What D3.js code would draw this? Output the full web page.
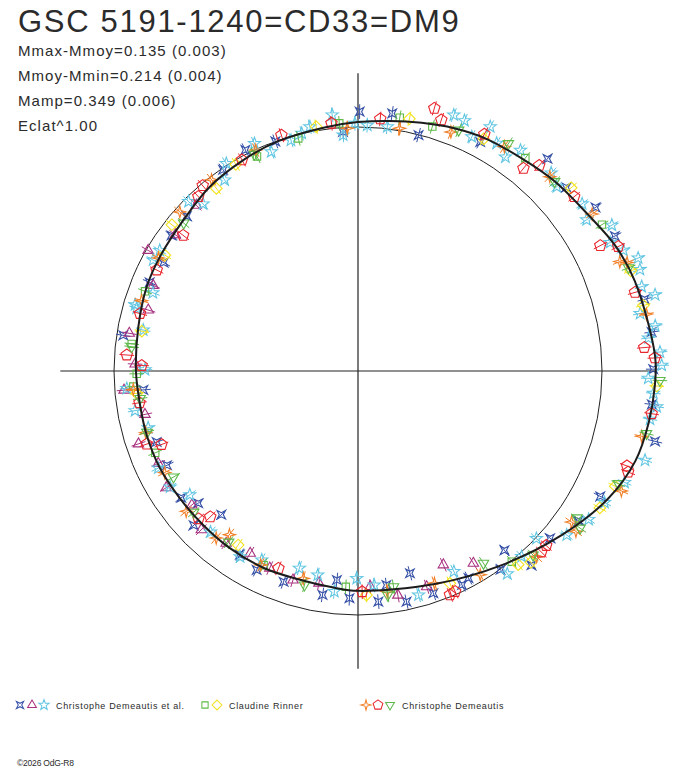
<!DOCTYPE html>
<html>
<head>
<meta charset="utf-8">
<script src="https://cdn.jsdelivr.net/npm/d3@7"></script>
<style>
  body { margin: 0; background: #fff; }
  svg { display: block; }
  text { font-family: "Liberation Sans", Arial, sans-serif; fill: #2b2b2b; }
</style>
</head>
<body>
<div id="chart"></div>
<script>
// Chart texts
const title = "GSC 5191-1240=CD33=DM9";
const statLines = ["Mmax-Mmoy=0.135 (0.003)", "Mmoy-Mmin=0.214 (0.004)", "Mamp=0.349 (0.006)", "Eclat^1.00"];
const footer = "\u00a92026 OdG-R8";
const observers = ["Christophe Demeautis et al.", "Claudine Rinner", "Christophe Demeautis"];

// Mean light curve: phase (0..1, clockwise from top) and flux relative to the reference circle
const meanPhase = [0.000, 0.020, 0.040, 0.060, 0.080, 0.105, 0.128, 0.155, 0.178, 0.200, 0.242, 0.258, 0.278, 0.300, 0.325, 0.358, 0.399, 0.445, 0.500, 0.518, 0.546, 0.571, 0.600, 0.626, 0.651, 0.678, 0.703, 0.725, 0.750, 0.781, 0.810, 0.833, 0.864, 0.892, 0.921, 0.946, 0.979];
const meanFlux  = [1.020, 1.033, 1.050, 1.070, 1.087, 1.100, 1.120, 1.140, 1.173, 1.193, 1.219, 1.218, 1.210, 1.195, 1.151, 1.072, 0.989, 0.928, 0.901, 0.893, 0.888, 0.895, 0.896, 0.895, 0.897, 0.904, 0.905, 0.904, 0.910, 0.918, 0.932, 0.937, 0.946, 0.969, 0.984, 0.997, 1.008];

const referenceFlux = 1.0;
const axisFlux = 1.22;
const errorFlux = 0.03;

// Observations [phase, flux], one array per marker
const demEtAlStar4 = [[0.001,1.063],[0.021,1.065],[0.040,0.998],[0.078,1.064],[0.116,1.166],[0.135,1.138],[0.154,1.182],[0.173,1.189],[0.211,1.211],[0.229,1.214],[0.249,1.210],[0.268,1.212],[0.287,1.251],[0.326,1.118],[0.345,1.092],[0.364,1.044],[0.384,1.067],[0.391,0.949],[0.401,1.002],[0.422,0.962],[0.428,0.975],[0.448,0.962],[0.460,0.856],[0.467,0.966],[0.479,0.885],[0.486,0.949],[0.506,0.932],[0.516,0.861],[0.525,0.929],[0.554,0.916],[0.575,0.915],[0.591,0.895],[0.621,0.813],[0.630,0.924],[0.640,0.850],[0.651,0.891],[0.677,0.873],[0.696,0.875],[0.736,0.883],[0.774,0.973],[0.814,0.928],[0.831,0.912],[0.850,0.945],[0.867,0.946],[0.906,0.993],[0.925,1.017],[0.945,1.000],[0.990,0.982]];
const demEtAlTriangle = [[0.414,0.919],[0.434,0.868],[0.451,0.928],[0.472,0.933],[0.491,0.885],[0.529,0.884],[0.548,0.897],[0.567,0.885],[0.585,0.868],[0.604,0.889],[0.624,0.914],[0.642,0.875],[0.663,0.920],[0.681,0.902],[0.699,0.948],[0.718,0.891],[0.737,0.962],[0.755,0.914],[0.776,0.950],[0.795,0.895],[0.813,0.910],[0.833,0.992],[0.852,0.934],[0.877,0.949]];
const demEtAlStar5 = [[0.006,1.008],[0.019,1.008],[0.057,1.120],[0.064,1.115],[0.072,1.067],[0.079,1.138],[0.087,1.093],[0.096,1.065],[0.101,1.123],[0.123,1.134],[0.131,1.111],[0.148,1.146],[0.157,1.123],[0.167,1.200],[0.175,1.160],[0.182,1.195],[0.189,1.238],[0.195,1.228],[0.204,1.213],[0.210,1.257],[0.218,1.180],[0.226,1.232],[0.232,1.198],[0.240,1.240],[0.247,1.245],[0.254,1.190],[0.262,1.214],[0.269,1.233],[0.276,1.213],[0.298,1.232],[0.313,1.184],[0.328,1.145],[0.341,1.124],[0.356,1.088],[0.370,1.003],[0.385,1.014],[0.399,1.032],[0.429,0.911],[0.458,0.951],[0.488,0.880],[0.501,0.850],[0.517,0.909],[0.531,0.852],[0.546,0.843],[0.575,0.869],[0.590,0.902],[0.618,0.895],[0.649,0.856],[0.662,0.905],[0.678,0.910],[0.708,0.891],[0.722,0.928],[0.738,0.950],[0.751,0.873],[0.780,0.896],[0.794,0.943],[0.796,0.953],[0.808,0.900],[0.829,0.955],[0.837,0.951],[0.875,0.982],[0.881,0.934],[0.903,0.955],[0.910,1.007],[0.932,1.024],[0.940,0.966],[0.955,0.985],[0.963,1.001],[0.969,1.020],[0.984,1.055],[0.990,0.969],[0.998,1.015]];
const rinnerSquare = [[0.026,1.052],[0.047,1.047],[0.106,1.110],[0.164,1.166],[0.392,1.004],[0.509,0.886],[0.572,0.885],[0.689,0.896],[0.739,0.923],[0.748,0.907],[0.769,0.934],[0.807,0.932],[0.930,0.972],[0.960,0.984],[0.988,1.018]];
const rinnerDiamond = [[0.032,1.055],[0.079,1.082],[0.137,1.152],[0.194,1.191],[0.214,1.200],[0.258,1.226],[0.317,1.155],[0.332,1.139],[0.383,1.057],[0.390,1.030],[0.435,0.948],[0.494,0.919],[0.596,0.866],[0.734,0.911],[0.779,0.901],[0.836,0.923],[0.856,0.970],[0.895,0.947],[0.915,0.984],[0.973,1.016]];
const demSpark = [[0.027,1.009],[0.059,1.051],[0.092,1.098],[0.124,1.119],[0.156,1.155],[0.187,1.163],[0.189,1.189],[0.219,1.205],[0.286,1.193],[0.318,1.186],[0.348,1.072],[0.351,1.109],[0.378,1.056],[0.414,0.974],[0.445,0.925],[0.479,0.912],[0.541,0.879],[0.574,0.889],[0.606,0.853],[0.612,0.898],[0.641,0.909],[0.673,0.895],[0.705,0.906],[0.737,0.924],[0.800,0.933],[0.832,0.940],[0.866,0.979],[0.896,0.987],[0.931,0.998],[0.993,0.996]];
const demPentagon = [[0.014,1.037],[0.045,1.121],[0.051,1.084],[0.078,1.100],[0.109,1.072],[0.115,1.123],[0.142,1.138],[0.174,1.118],[0.179,1.182],[0.206,1.180],[0.237,1.177],[0.243,1.218],[0.273,1.216],[0.304,1.169],[0.307,1.182],[0.369,1.052],[0.374,1.056],[0.434,0.988],[0.438,0.992],[0.497,0.905],[0.561,0.872],[0.626,0.851],[0.631,0.891],[0.693,0.860],[0.697,0.917],[0.727,0.905],[0.754,0.887],[0.761,0.950],[0.791,0.924],[0.824,0.923],[0.855,0.907],[0.882,0.969],[0.889,0.991],[0.920,0.987],[0.950,1.016],[0.983,1.021]];
const demTriangleDown = [[0.063,1.070],[0.093,1.117],[0.128,1.119],[0.192,1.187],[0.255,1.238],[0.284,1.210],[0.315,1.162],[0.344,1.081],[0.348,1.115],[0.379,1.041],[0.408,0.941],[0.474,0.896],[0.479,0.926],[0.539,0.904],[0.603,0.879],[0.637,0.888],[0.667,0.872],[0.705,0.900],[0.730,0.900],[0.767,0.933],[0.862,0.937],[0.929,0.985]];

/*******************************/
/*    Layout and shapes        */
/*******************************/
const width = 688;
const height = 768;
const cx = 358;
const cy = 371;
const refRadius = 244;

const starPath = (n, R, r, rot) => {
  const pts = d3.range(n * 2).map(i => {
    const a = rot + i * Math.PI / n;
    const rad = i % 2 ? r : R;
    return [rad * Math.sin(a), -rad * Math.cos(a)];
  });
  return "M" + pts.map(p => p.map(v => v.toFixed(2)).join(",")).join("L") + "Z";
};
const polyPath = (n, R, rot) => {
  const pts = d3.range(n).map(i => {
    const a = rot + i * 2 * Math.PI / n;
    return [R * Math.sin(a), -R * Math.cos(a)];
  });
  return "M" + pts.map(p => p.map(v => v.toFixed(2)).join(",")).join("L") + "Z";
};

const series = [
  { id: "star4",   data: demEtAlStar4,     color: "#3550a6", path: starPath(4, 6, 2.0, Math.PI / 4), legend: 0 },
  { id: "triUp",   data: demEtAlTriangle,  color: "#a8327f", path: polyPath(3, 6, 0),               legend: 0 },
  { id: "star5",   data: demEtAlStar5,     color: "#62c6e2", path: starPath(5, 6.4, 2.6, 0),         legend: 0 },
  { id: "square",  data: rinnerSquare,     color: "#5fb947", path: polyPath(4, 5.2, Math.PI / 4),   legend: 1 },
  { id: "diamond", data: rinnerDiamond,    color: "#f2e21c", path: polyPath(4, 5.8, 0),             legend: 1 },
  { id: "spark",   data: demSpark,         color: "#f07f26", path: starPath(4, 6, 1.8, 0),          legend: 2 },
  { id: "penta",   data: demPentagon,      color: "#e8262e", path: polyPath(5, 6, 0),               legend: 2 },
  { id: "triDown", data: demTriangleDown,  color: "#5cb84a", path: polyPath(3, 6, Math.PI),         legend: 2 }
];

/*******************************/
/*    Append the containers    */
/*******************************/
const svg = d3.select("#chart")
  .append("svg")
    .attr("width", width)
    .attr("height", height)
    .attr("viewBox", [0, 0, width, height]);

svg.append("rect")
  .attr("width", width)
  .attr("height", height)
  .attr("fill", "#fff");

const plot = svg
  .append("g")
    .attr("transform", `translate(${cx}, ${cy})`);

/*******************************/
/*    Scales                   */
/*******************************/
const angleScale = d3.scaleLinear()
  .domain([0, 1])
  .range([0, 2 * Math.PI]);

const rScale = d3.scaleLinear()
  .domain([0, referenceFlux])
  .range([0, refRadius]);

/*******************************/
/*    Axes and reference       */
/*******************************/
const axisR = rScale(axisFlux);
plot.append("line")
  .attr("x1", -axisR).attr("x2", axisR)
  .attr("y1", 0).attr("y2", 0)
  .attr("stroke", "#222").attr("stroke-width", 1.2);
plot.append("line")
  .attr("x1", 0).attr("x2", 0)
  .attr("y1", -axisR).attr("y2", axisR)
  .attr("stroke", "#222").attr("stroke-width", 1.2);

plot.append("circle")
  .attr("r", rScale(referenceFlux))
  .attr("fill", "none")
  .attr("stroke", "#222")
  .attr("stroke-width", 1);

/*******************************/
/*    Observations             */
/*******************************/
series.forEach(s => {
  const g = plot.append("g").attr("class", `obs-${s.id}`);

  g.selectAll("line")
    .data(s.data)
    .join("line")
      .attr("x1", d => d3.pointRadial(angleScale(d[0]), rScale(d[1] - errorFlux))[0])
      .attr("y1", d => d3.pointRadial(angleScale(d[0]), rScale(d[1] - errorFlux))[1])
      .attr("x2", d => d3.pointRadial(angleScale(d[0]), rScale(d[1] + errorFlux))[0])
      .attr("y2", d => d3.pointRadial(angleScale(d[0]), rScale(d[1] + errorFlux))[1])
      .attr("stroke", s.color)
      .attr("stroke-width", 1);

  g.selectAll("path")
    .data(s.data)
    .join("path")
      .attr("d", s.path)
      .attr("transform", d => `translate(${d3.pointRadial(angleScale(d[0]), rScale(d[1])).join(",")})`)
      .attr("fill", "none")
      .attr("stroke", s.color)
      .attr("stroke-width", 1.1);
});

/*******************************/
/*    Mean curve               */
/*******************************/
const meanLine = d3.lineRadial()
  .angle(d => angleScale(d[0]))
  .radius(d => rScale(d[1]))
  .curve(d3.curveCatmullRomClosed);

plot.append("path")
  .datum(meanPhase.map((p, i) => [p, meanFlux[i]]))
  .attr("d", meanLine)
  .attr("fill", "none")
  .attr("stroke", "#1c1c1c")
  .attr("stroke-width", 2);

/*******************************/
/*    Texts                    */
/*******************************/
svg.append("text")
  .attr("x", 18)
  .attr("y", 32)
  .attr("font-size", 31)
  .attr("letter-spacing", 1.7)
  .text(title);

svg.selectAll(".stat")
  .data(statLines)
  .join("text")
    .attr("class", "stat")
    .attr("x", 18)
    .attr("y", (d, i) => 56 + i * 25)
    .attr("font-size", 15)
    .attr("letter-spacing", 1.05)
    .text(d => d);

/*******************************/
/*    Legend                   */
/*******************************/
const legendMarkerX = [20, 32, 44, 205, 217, 366, 378, 390];
const legendTextX = [56, 229, 402];
const legendY = 705;

series.forEach((s, i) => {
  svg.append("path")
    .attr("d", s.path)
    .attr("transform", `translate(${legendMarkerX[i]}, ${legendY}) scale(0.85)`)
    .attr("fill", "none")
    .attr("stroke", s.color)
    .attr("stroke-width", 1.2);
});

svg.selectAll(".legend-text")
  .data(observers)
  .join("text")
    .attr("class", "legend-text")
    .attr("x", (d, i) => legendTextX[i])
    .attr("y", legendY + 4)
    .attr("font-size", 9)
    .attr("letter-spacing", 0.65)
    .text(d => d);

svg.append("text")
  .attr("x", 17)
  .attr("y", 766)
  .attr("font-size", 8.5)
  .attr("letter-spacing", -0.2)
  .text(footer);
</script>
</body>
</html>
